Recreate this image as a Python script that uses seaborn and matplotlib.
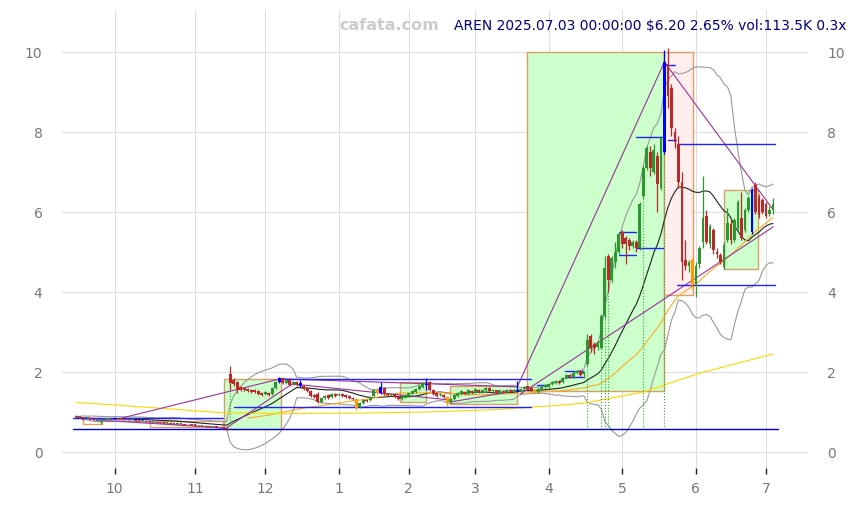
import numpy as np
import pandas as pd
import matplotlib
matplotlib.use("Agg")
import matplotlib.pyplot as plt
import seaborn as sns
from matplotlib.patches import Rectangle

# ---------------- data (open, high, low, close) per month ----------------
sep = [(0.90,0.92,0.87,0.88),(0.88,0.90,0.85,0.86),(0.86,0.87,0.81,0.82),(0.84,0.86,0.83,0.85),
       (0.85,0.86,0.79,0.80),(0.82,0.83,0.78,0.79),(0.78,0.81,0.77,0.80),(0.74,0.79,0.70,0.78),
       (0.80,0.83,0.79,0.82),(0.82,0.85,0.81,0.84),(0.84,0.85,0.82,0.83)]
octo = [(0.83,0.87,0.82,0.85),(0.85,0.86,0.82,0.83),(0.84,0.85,0.81,0.82),(0.82,0.83,0.79,0.80),
        (0.81,0.82,0.78,0.79),(0.80,0.82,0.79,0.81),(0.80,0.81,0.77,0.78),(0.79,0.80,0.76,0.77),
        (0.78,0.80,0.77,0.79),(0.78,0.79,0.75,0.76),(0.77,0.78,0.74,0.75),(0.75,0.77,0.74,0.76),
        (0.76,0.77,0.73,0.74),(0.75,0.76,0.72,0.73),(0.74,0.75,0.71,0.72),(0.73,0.75,0.72,0.74),
        (0.73,0.74,0.70,0.71),(0.72,0.73,0.69,0.70),(0.71,0.73,0.70,0.72),(0.71,0.72,0.69,0.70),
        (0.70,0.71,0.67,0.68),(0.69,0.71,0.68,0.70),(0.70,0.71,0.67,0.68)]
nov = [(0.68,0.69,0.66,0.67),(0.67,0.68,0.65,0.66),(0.66,0.68,0.65,0.67),(0.66,0.67,0.63,0.64),
       (0.65,0.66,0.62,0.63),(0.63,0.65,0.62,0.64),(0.63,0.64,0.61,0.62),(0.62,0.63,0.60,0.61),
       (0.61,0.62,0.59,0.60),(0.60,0.62,0.56,0.58),(1.95,2.15,1.55,1.72),(1.80,1.86,1.66,1.70),
       (1.75,1.78,1.48,1.55),(1.62,1.66,1.52,1.55),(1.60,1.63,1.52,1.55),(1.58,1.60,1.49,1.52),
       (1.55,1.58,1.47,1.50),(1.55,1.57,1.47,1.50),(1.52,1.54,1.42,1.45),(1.48,1.50,1.40,1.42)]
dec = [(1.45,1.52,1.42,1.50),(1.48,1.50,1.40,1.42),(1.45,1.62,1.43,1.60),(1.60,1.78,1.58,1.75),
       (1.75,1.88,1.72,1.85),(1.85,1.87,1.70,1.72),(1.72,1.82,1.70,1.80),(1.80,1.82,1.66,1.68),
       (1.70,1.77,1.68,1.75),(1.75,1.77,1.66,1.68),(1.72,1.80,1.63,1.65),(1.65,1.67,1.56,1.58),
       (1.60,1.62,1.50,1.52),(1.52,1.54,1.38,1.40),(1.42,1.45,1.36,1.38),(1.45,1.50,1.22,1.25),
       (1.25,1.36,1.22,1.35),(1.35,1.42,1.33,1.40),(1.42,1.44,1.33,1.35),(1.38,1.47,1.36,1.45),
       (1.45,1.48,1.38,1.40)]
jan = [(1.42,1.47,1.40,1.45),(1.45,1.47,1.38,1.40),(1.42,1.44,1.36,1.38),(1.40,1.42,1.33,1.35),
       (1.36,1.38,1.30,1.32),(1.33,1.35,1.05,1.10),(1.12,1.24,1.10,1.22),(1.22,1.32,1.20,1.30),
       (1.30,1.33,1.26,1.28),(1.30,1.40,1.28,1.38),(1.40,1.57,1.38,1.55),(1.55,1.60,1.44,1.48),
       (1.48,1.75,1.46,1.62),(1.60,1.62,1.43,1.45),(1.45,1.48,1.40,1.42),(1.42,1.47,1.40,1.45),
       (1.45,1.47,1.36,1.38),(1.40,1.42,1.30,1.32),(1.32,1.40,1.30,1.38),(1.36,1.44,1.34,1.42)]
feb = [(1.40,1.50,1.38,1.48),(1.46,1.54,1.44,1.52),(1.50,1.60,1.48,1.58),(1.58,1.67,1.56,1.65),
       (1.62,1.74,1.60,1.72),(1.70,1.85,1.55,1.68),(1.75,1.77,1.53,1.55),(1.55,1.57,1.43,1.45),
       (1.48,1.50,1.38,1.40),(1.42,1.47,1.40,1.45),(1.42,1.44,1.36,1.38),(1.38,1.40,1.15,1.22),
       (1.25,1.34,1.23,1.32),(1.32,1.44,1.30,1.42),(1.40,1.50,1.38,1.48),(1.45,1.54,1.43,1.52),
       (1.50,1.52,1.43,1.45),(1.45,1.57,1.43,1.55),(1.52,1.54,1.46,1.48)]
mar = [(1.48,1.60,1.46,1.58),(1.56,1.58,1.48,1.50),(1.50,1.58,1.48,1.56),(1.55,1.62,1.53,1.60),
       (1.60,1.62,1.50,1.52),(1.52,1.57,1.50,1.55),(1.54,1.56,1.46,1.48),(1.48,1.56,1.46,1.54),
       (1.52,1.54,1.48,1.50),(1.50,1.57,1.48,1.55),(1.55,1.57,1.50,1.52),(1.52,1.57,1.50,1.55),
       (1.55,1.78,1.50,1.52),(1.52,1.60,1.50,1.58),(1.58,1.64,1.56,1.62),(1.64,1.66,1.56,1.58),
       (1.60,1.62,1.53,1.55),(1.55,1.57,1.48,1.50),(1.50,1.60,1.48,1.58),(1.58,1.64,1.56,1.62),
       (1.62,1.70,1.60,1.68)]
apr = [(1.62,1.72,1.60,1.70),(1.70,1.77,1.68,1.75),(1.72,1.80,1.70,1.78),(1.78,1.80,1.70,1.72),
       (1.75,1.87,1.73,1.85),(1.85,1.95,1.83,1.92),(1.92,1.94,1.85,1.88),(1.88,2.00,1.86,1.98),
       (1.98,2.05,1.95,2.02),(2.02,2.04,1.90,1.92),(1.95,2.02,1.85,2.00),(2.20,2.95,2.15,2.80),
       (2.90,2.95,2.50,2.60),(2.70,2.75,2.45,2.60),(2.62,2.78,2.55,2.72),(2.60,3.45,2.58,3.40),
       (3.40,4.90,3.35,4.60),(4.90,4.95,4.00,4.30),(4.30,4.90,4.25,4.85),(4.75,5.25,4.60,5.00),
       (5.00,5.50,4.95,5.45)]
may = [(5.50,5.55,5.10,5.20),(5.35,5.40,4.70,5.20),(5.30,5.35,5.05,5.15),(5.15,5.30,5.10,5.25),
       (5.25,5.30,5.00,5.10),(5.10,6.25,5.05,6.20),(6.40,7.15,6.35,7.10),(7.10,7.65,7.05,7.60),
       (7.50,7.65,6.90,7.10),(7.00,7.70,6.95,7.55),(7.40,7.50,6.00,6.70),(6.60,7.90,6.55,7.85),
       (7.50,10.05,7.45,9.75),(9.70,10.10,8.60,8.90),(9.10,9.20,7.90,8.10),(8.00,8.10,7.60,7.75),
       (7.70,7.90,6.60,6.75),(6.75,7.00,4.30,4.75),(4.80,5.30,4.55,4.65),(4.65,4.80,4.50,4.75),
       (4.80,4.85,4.10,4.20)]
jun = [(4.20,4.75,3.87,4.65),(4.70,5.15,4.60,5.10),(5.25,6.90,5.10,5.85),(5.90,6.05,5.20,5.25),
       (5.20,5.70,5.10,5.65),(5.55,5.60,4.95,5.05),(5.00,5.10,4.85,4.95),(4.92,4.98,4.70,4.75),
       (4.62,5.25,4.58,5.17),(5.30,6.10,5.25,5.72),(5.70,5.80,5.20,5.30),(5.30,5.85,5.25,5.80),
       (5.60,6.30,5.55,6.25),(5.85,6.50,5.30,5.35),(5.55,6.10,5.50,6.05),(6.05,6.40,6.00,6.35),
       (5.50,6.60,5.45,6.55),(6.67,6.75,5.95,6.00),(6.37,6.45,5.85,5.92),(6.30,6.35,5.95,6.00)]
jul = [(6.20,6.25,5.85,5.90),(5.95,6.15,5.90,6.04),(6.04,6.35,5.95,6.20)]

month_labels = ["10", "11", "12", "1", "2", "3", "4", "5", "6", "7"]
blue_idx = [11, 58, 64, 87, 100, 126, 168, 193]
orange_idx = [80, 86, 106, 131, 176]
signal_idx = [44, 146, 150, 151, 152, 162, 168]

# long moving average
ma_long_idx = [0, 20, 42, 60, 80, 100, 120, 138, 145, 162, 178, 199]
ma_long_val = [1.24, 1.12, 0.98, 0.96, 0.97, 1.00, 1.06, 1.17, 1.22, 1.50, 1.97, 2.45]

# boxes: (i0, i1, low, high, kind)
boxes = [(2, 7.4, 0.70, 0.85, "o"), (21, 42, 0.62, 0.78, "o"),
         (42.3, 58.6, 0.58, 1.83, "g"), (92.6, 100, 1.25, 1.75, "g"),
         (106.9, 126, 1.20, 1.65, "g"), (128.9, 168, 1.53, 10.0, "g"),
         (168, 176.3, 3.93, 10.0, "r"), (185, 194.6, 4.58, 6.55, "g")]
# horizontal blue levels: (value, i0, i1)
blue_levels = [(0.85, -1, 42), (1.12, 45, 130), (1.82, 58, 130),
               (1.67, 131.7, 134.6), (2.02, 139.7, 144.9), (1.88, 139.7, 144.9),
               (5.50, 155, 160), (4.93, 155, 160), (5.10, 160, 167.5), (7.87, 160, 167.4),
               (9.67, 168.3, 171), (7.80, 169, 171.4), (7.70, 171.7, 199.7), (4.17, 171.7, 199.7)]
support_level = 0.575
# purple trend lines: (i0, v0, i1, v1)
trend_lines = [(13.1, 0.85, 58.3, 1.83), (5.9, 0.80, 42.6, 0.60), (42.6, 0.58, 61.7, 1.70),
               (61.7, 1.70, 106.9, 1.30), (106.9, 1.25, 126.9, 1.55), (58.3, 1.83, 126, 1.63),
               (126, 1.63, 168, 9.75), (168, 9.75, 199.1, 6.05), (126.9, 1.45, 199.1, 5.63)]

# ---------------- build frame ----------------
rows = sep + octo + nov + dec + jan + feb + mar + apr + may + jun + jul
df = pd.DataFrame(rows, columns=["open", "high", "low", "close"])
df["idx"] = np.arange(len(df))
df["ma20"] = df["close"].rolling(20, min_periods=1).mean()
sd = df["close"].rolling(20, min_periods=1).std(ddof=0)
df["bb_up"] = df["ma20"] + 2 * sd
df["bb_dn"] = df["ma20"] - 2 * sd
df["ma50"] = df["close"].rolling(50, min_periods=50).mean()
month_ticks = [11, 34, 54, 75, 95, 114, 135, 156, 177, 197]

# ---------------- figure ----------------
sns.set_theme(style="whitegrid")
plt.rcParams["font.family"] = ["DejaVu Sans"]
fig = plt.figure(figsize=(8.56, 5.05), dpi=100)
ax = fig.add_axes([62 / 856, 37 / 505, 746 / 856, 458 / 505])
ax.set_facecolor("white")
for s in ax.spines.values():
    s.set_visible(False)
ax.grid(True, color="#dddddd", lw=0.8)
ax.set_axisbelow(True)

# boxes
for i0, i1, lo, hi, kind in boxes:
    if kind == "g":
        fc, ec = "#ccffcc", "#d9a066"
    elif kind == "r":
        fc, ec = "#ffeeee", "#d9a066"
    else:
        fc, ec = "none", "#e8a060"
    ax.add_patch(Rectangle((i0, lo), i1 - i0, hi - lo, facecolor=fc, edgecolor=ec, lw=1.0, zorder=1))

# indicator lines via seaborn
sns.lineplot(data=df, x="idx", y="bb_up", color="#999999", lw=0.8, ax=ax, zorder=2)
sns.lineplot(data=df, x="idx", y="bb_dn", color="#999999", lw=0.8, ax=ax, zorder=2)
sns.lineplot(data=df, x="idx", y="ma20", color="#222222", lw=0.8, ax=ax, zorder=2)
sns.lineplot(data=df, x="idx", y="ma50", color="#ffaa22", lw=0.8, ax=ax, zorder=2)
sns.lineplot(x=ma_long_idx, y=ma_long_val, color="#ffd700", lw=0.8, ax=ax, zorder=2)

# trend lines and levels
for i0, v0, i1, v1 in trend_lines:
    ax.plot([i0, i1], [v0, v1], color="#993399", lw=0.8, zorder=3)
for v, i0, i1 in blue_levels:
    ax.plot([i0, i1], [v, v], color="#2222ff", lw=1.0, zorder=3)
ax.plot([-1, 200.3], [support_level, support_level], color="#0000cc", lw=1.0, zorder=3)

# signal dotted lines
ax.vlines(signal_idx, support_level, df.loc[signal_idx, "low"], colors="#33aa33",
          linestyles=":", lw=0.8, zorder=3)

# candles
up = df["close"] >= df["open"]
cols = np.where(up, "#2e962e", "#bb2a2a").astype(object)
for i in blue_idx:
    cols[i] = "#0000ff"
for i in orange_idx:
    cols[i] = "#ff9900"
body = (df["close"] - df["open"]).to_numpy()
body = np.where(np.abs(body) < 0.015, 0.015, body)
ax.vlines(df["idx"], df["low"], df["high"], colors=list(cols), lw=0.9, zorder=4)
ax.bar(df["idx"], body, bottom=df["open"], width=0.8, color=list(cols), lw=0, zorder=5)

# axes
ax.set_xlim(-4, 209)
ax.set_ylim(-0.4, 11.05)
ax.set_xticks(month_ticks)
ax.set_xticklabels(month_labels)
ax.set_yticks([0, 2, 4, 6, 8, 10])
ax.set_yticklabels(["0", "2", "4", "6", "8", "10"])
ax.set_xlabel("")
ax.set_ylabel("")
ax.tick_params(axis="x", bottom=True, length=4, width=1, color="#222222", direction="out",
               labelsize=10, labelcolor="#777777", pad=6)
ax.tick_params(axis="y", left=False, right=False, labelleft=True, labelright=True,
               labelsize=10, labelcolor="#777777", pad=8)

fig.text(389 / 856, 1 - 25 / 505, "cafata.com", ha="center", va="center",
         color="#cccccc", fontsize=11.5, fontweight="bold")
fig.text(846 / 856, 1 - 26 / 505, "AREN 2025.07.03 00:00:00 $6.20 2.65% vol:113.5K 0.3x",
         ha="right", va="center", color="#000080", fontsize=10)

fig.savefig("out.png", dpi=100, facecolor="white")
